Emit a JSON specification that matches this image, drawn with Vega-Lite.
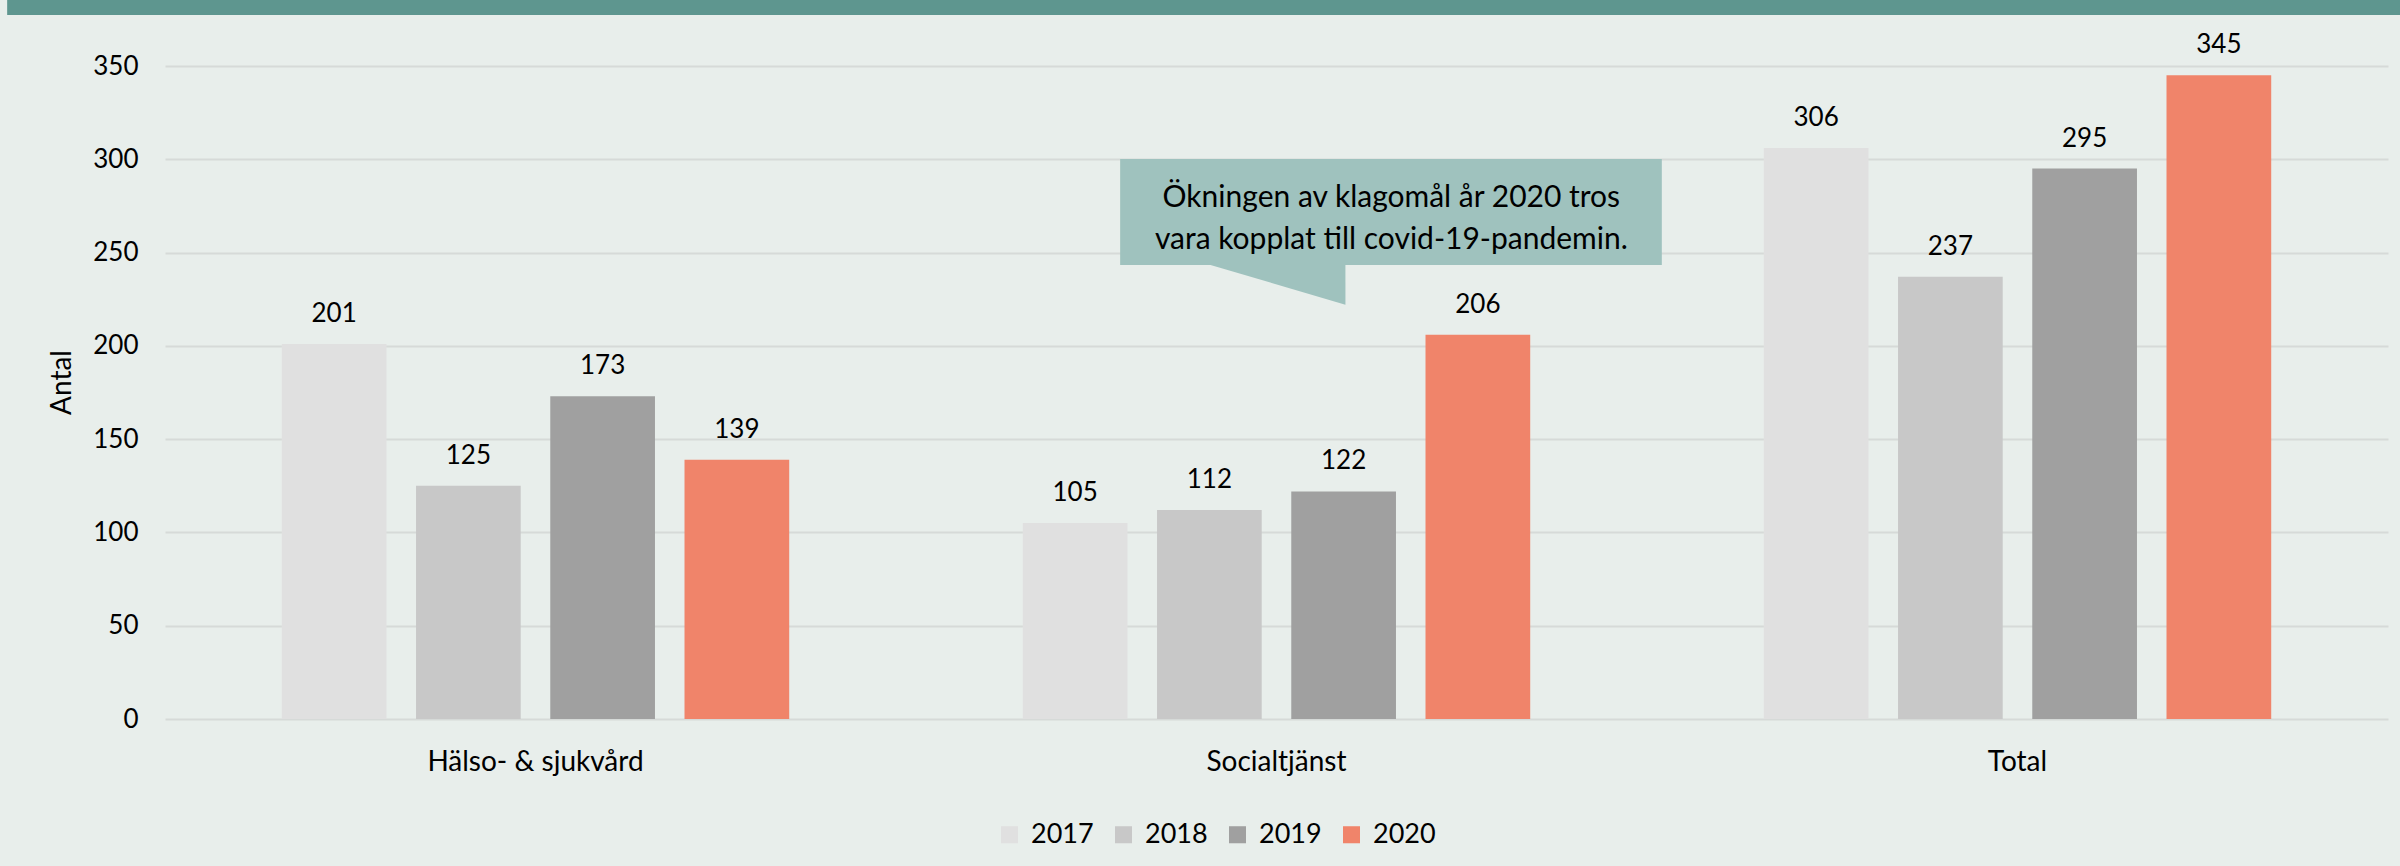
{
  "$schema": "https://vega.github.io/schema/vega-lite/v6.json",
  "width": 2223,
  "height": 653,
  "autosize": {"type": "none"},
  "padding": {"left": 165, "top": 66, "right": 12, "bottom": 147},
  "background": "#E8EEEB",
  "config": {
    "font": "Lato",
    "view": {"stroke": null},
    "axis": {"labelFont": "Lato", "titleFont": "Lato", "labelColor": "#000000", "titleColor": "#000000"},
    "legend": {"labelFont": "Lato"}
  },
  "datasets": {
    "main": [
      {"kategori": "Hälso- & sjukvård", "år": "2017", "antal": 201},
      {"kategori": "Hälso- & sjukvård", "år": "2018", "antal": 125},
      {"kategori": "Hälso- & sjukvård", "år": "2019", "antal": 173},
      {"kategori": "Hälso- & sjukvård", "år": "2020", "antal": 139},
      {"kategori": "Socialtjänst", "år": "2017", "antal": 105},
      {"kategori": "Socialtjänst", "år": "2018", "antal": 112},
      {"kategori": "Socialtjänst", "år": "2019", "antal": 122},
      {"kategori": "Socialtjänst", "år": "2020", "antal": 206},
      {"kategori": "Total", "år": "2017", "antal": 306},
      {"kategori": "Total", "år": "2018", "antal": 237},
      {"kategori": "Total", "år": "2019", "antal": 295},
      {"kategori": "Total", "år": "2020", "antal": 345}
    ],
    "box": [{"x": 1.289, "x2": 2.020, "y": 243.4, "y2": 300.2}],
    "tail": [
      {"x": 1.411, "y": 243.4, "y2": 243.4},
      {"x": 1.593, "y": 222.1, "y2": 243.4}
    ],
    "note": [
      {"x": 1.655, "y": 279.2, "rad": "Ökningen av klagomål år 2020 tros"},
      {"x": 1.655, "y": 256.8, "rad": "vara kopplat till covid-19-pandemin."}
    ],
    "strip": [{"x": -0.213, "x2": 3.02, "y": 377.3, "y2": 386}]
  },
  "layer": [
    {
      "data": {"name": "main"},
      "encoding": {
        "x": {
          "field": "kategori", "type": "nominal",
          "sort": ["Hälso- & sjukvård", "Socialtjänst", "Total"],
          "scale": {"paddingInner": 0, "paddingOuter": 0},
          "axis": {"title": null, "labelAngle": 0, "labelFontSize": 28, "labelLimit": 0, "labelPadding": 29, "ticks": false, "domain": false, "grid": false}
        },
        "xOffset": {
          "field": "år", "type": "nominal",
          "scale": {"paddingInner": 0.22, "paddingOuter": 0.87}
        },
        "y": {
          "field": "antal", "type": "quantitative",
          "scale": {"domain": [0, 350], "nice": false},
          "axis": {"title": "Antal", "titleFontSize": 28, "titleFontWeight": "normal", "titlePadding": 16, "titleY": 316, "labelFontSize": 26, "labelPadding": 27, "ticks": false, "domain": false, "values": [0, 50, 100, 150, 200, 250, 300, 350], "gridColor": "#D6DAD8", "gridWidth": 2}
        }
      },
      "layer": [
        {
          "mark": {"type": "bar"},
          "encoding": {
            "color": {
              "field": "år", "type": "nominal",
              "scale": {"domain": ["2017", "2018", "2019", "2020"], "range": ["#E0E0E0", "#C8C8C8", "#A0A0A0", "#F0846A"]},
              "legend": {"title": null, "orient": "none", "direction": "horizontal", "legendX": 831, "legendY": 755, "symbolType": "square", "symbolSize": 290, "symbolStrokeWidth": 0, "labelFontSize": 27, "labelColor": "#000000", "labelOffset": 8, "columnPadding": 16}
            }
          }
        },
        {
          "mark": {"type": "text", "fontSize": 26, "baseline": "alphabetic", "dy": -22, "color": "#000000"},
          "encoding": {"text": {"field": "antal", "type": "quantitative"}}
        }
      ]
    },
    {
      "layer": [
        {
          "data": {"name": "box"},
          "mark": {"type": "rect", "color": "#9FC2BE", "clip": false},
          "encoding": {
            "x": {"field": "x", "type": "quantitative", "scale": {"domain": [0, 3], "nice": false, "zero": false}, "axis": null},
            "x2": {"field": "x2"},
            "y": {"field": "y", "type": "quantitative", "scale": {"domain": [0, 350], "nice": false}},
            "y2": {"field": "y2"}
          }
        },
        {
          "data": {"name": "tail"},
          "mark": {"type": "area", "color": "#9FC2BE", "clip": false},
          "encoding": {
            "x": {"field": "x", "type": "quantitative", "scale": {"domain": [0, 3], "nice": false, "zero": false}, "axis": null},
            "y": {"field": "y", "type": "quantitative", "scale": {"domain": [0, 350], "nice": false}},
            "y2": {"field": "y2"}
          }
        },
        {
          "data": {"name": "note"},
          "mark": {"type": "text", "fontSize": 30, "baseline": "middle", "align": "center", "color": "#000000"},
          "encoding": {
            "x": {"field": "x", "type": "quantitative", "scale": {"domain": [0, 3], "nice": false, "zero": false}, "axis": null},
            "y": {"field": "y", "type": "quantitative", "scale": {"domain": [0, 350], "nice": false}},
            "text": {"field": "rad"}
          }
        },
        {
          "data": {"name": "strip"},
          "mark": {"type": "rect", "color": "#5E968F", "clip": false},
          "encoding": {
            "x": {"field": "x", "type": "quantitative", "scale": {"domain": [0, 3], "nice": false, "zero": false}, "axis": null},
            "x2": {"field": "x2"},
            "y": {"field": "y", "type": "quantitative", "scale": {"domain": [0, 350], "nice": false}},
            "y2": {"field": "y2"}
          }
        }
      ]
    }
  ],
  "resolve": {"scale": {"x": "independent"}}
}
